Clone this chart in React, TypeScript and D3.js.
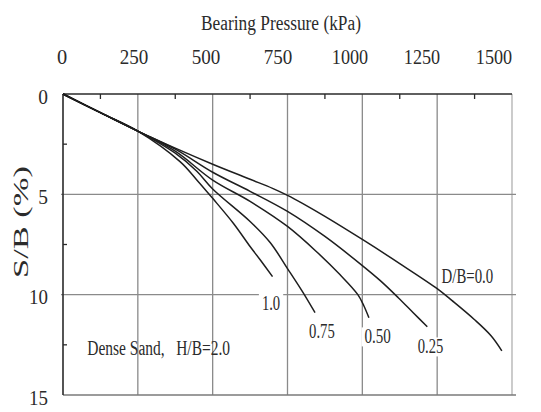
import React from "react";
import * as d3 from "d3";

// Load–settlement curves for a strip footing on dense sand (H/B = 2.0)
type Pt = [number, number]; // [bearing pressure kPa, S/B %]

const curveDB000: Pt[] = [
  [0, 0], [125, 0.93], [250, 1.85], [375, 2.7], [500, 3.5], [625, 4.25],
  [700, 4.7], [750, 5.05], [800, 5.45], [875, 6.1], [1000, 7.25],
  [1125, 8.45], [1250, 9.7], [1300, 10.3], [1375, 11.25], [1430, 12.05], [1466, 12.8],
];
const curveDB025: Pt[] = [
  [0, 0], [125, 0.93], [250, 1.85], [375, 2.75], [500, 3.9], [625, 4.85],
  [750, 5.85], [875, 7.1], [1000, 8.55], [1060, 9.3], [1120, 10.15],
  [1170, 10.9], [1217, 11.6],
];
const curveDB050: Pt[] = [
  [0, 0], [125, 0.93], [250, 1.85], [375, 2.85], [500, 4.29], [625, 5.35],
  [750, 6.6], [850, 7.9], [925, 9.0], [985, 10.0], [1005, 10.55], [1022, 11.15],
];
const curveDB075: Pt[] = [
  [0, 0], [125, 0.93], [250, 1.85], [375, 2.95], [447, 3.85], [500, 4.73],
  [625, 6.35], [692, 7.4], [750, 8.7], [800, 9.85], [842, 10.9],
];
const curveDB100: Pt[] = [
  [0, 0], [125, 0.93], [250, 1.85], [391, 3.37], [447, 4.28], [500, 5.2],
  [569, 6.44], [625, 7.6], [658, 8.25], [700, 9.1],
];

const allCurves = [curveDB000, curveDB025, curveDB050, curveDB075, curveDB100];

// Curve labels: text, anchor in data units, width of the set text, knockout background
const curveLabelText = ["D/B=0.0", "0.25", "0.50", "0.75", "1.0"];
const curveLabelAt: Pt[] = [[1351, 9.14], [1228, 12.63], [1051, 12.13], [865, 11.86], [695, 10.46]];
const curveLabelWidth = [51.6, 25.6, 26.4, 25.7, 18.3];
const curveLabelKnockout = [false, true, true, false, true];

const xMajorTicks = [0, 250, 500, 750, 1000, 1250, 1500];
const xMinorTicks = [125, 375, 625, 875, 1125, 1375];
const yMajorTicks = [0, 5, 10, 15];
const yMinorTicks = [2.5, 7.5, 12.5];

const xTitle = "Bearing Pressure (kPa)";
const yTitle = "S/B (%)";
const noteText = "Dense Sand,   H/B=2.0";

const W = 541;
const H = 412;
const FONT = "Liberation Serif, Times New Roman, Times, serif";

export default function App() {
  const x = d3.scaleLinear().domain([0, 1500]).range([63, 512]);
  const y = d3.scaleLinear().domain([0, 15]).range([94, 395]);
  // tick labels on the top axis are set slightly compressed toward the left
  const xLabel = d3.scaleLinear().domain([0, 1500]).range([62, 494]);

  const line = d3
    .line<Pt>()
    .x((d) => x(d[0]))
    .y((d) => y(d[1]))
    .curve(d3.curveCatmullRom.alpha(0.5));

  const [x0, x1] = x.range();
  const [y0, y1] = y.range();
  const gridColor = "#8a8a8a";
  const axisColor = "#2a2a2a";
  const textColor = "#2b2b2b";
  const digitW = 9.2;

  return (
    <svg
      width={W}
      height={H}
      style={{ position: "absolute", left: 0, top: 0, background: "#fff" }}
    >
      <rect x={0} y={0} width={W} height={H} fill="#fff" />

      {/* grid */}
      {xMajorTicks.slice(1).map((v) => (
        <line key={"gx" + v} x1={x(v)} x2={x(v)} y1={y0} y2={y1}
          stroke={v === 1500 ? "#b0b0b0" : gridColor} strokeWidth={1.3} />
      ))}
      {yMajorTicks.slice(1, 3).map((v) => (
        <line key={"gy" + v} x1={x0 - 2} x2={x1 + 4} y1={y(v)} y2={y(v)}
          stroke={gridColor} strokeWidth={1.4} />
      ))}
      <line x1={x0} x2={x1 + 4} y1={y1} y2={y1} stroke="#7a7a7a" strokeWidth={1.4} />

      {/* axes */}
      <line x1={x0} x2={x1} y1={y0} y2={y0} stroke={axisColor} strokeWidth={1.6} />
      <line x1={x0} x2={x0} y1={y0} y2={y1} stroke={axisColor} strokeWidth={1.6} />
      {xMinorTicks.map((v) => (
        <line key={"tx" + v} x1={x(v)} x2={x(v)} y1={y0} y2={y0 + 5}
          stroke={axisColor} strokeWidth={1.3} />
      ))}
      {yMinorTicks.map((v) => (
        <line key={"ty" + v} x1={x0} x2={x0 + 4} y1={y(v)} y2={y(v)}
          stroke={axisColor} strokeWidth={1.3} />
      ))}

      {/* curves */}
      {allCurves.map((c, i) => (
        <path key={"c" + i} d={line(c) ?? ""} fill="none" stroke="#1e1e1e"
          strokeWidth={1.5} strokeLinejoin="round" />
      ))}

      {/* curve labels */}
      {curveLabelText.map((t, i) => {
        const cx = x(curveLabelAt[i][0]);
        const cy = y(curveLabelAt[i][1]);
        const w = curveLabelWidth[i];
        return (
          <g key={"l" + i}>
            {curveLabelKnockout[i] && (
              <rect x={cx - w / 2 - 3} y={cy - 10} width={w + 6} height={19} fill="#fff" />
            )}
            <text x={cx - w / 2} y={cy + 6} fontFamily={FONT} fontSize={20}
              fill={textColor} textLength={w} lengthAdjust="spacingAndGlyphs">
              {t}
            </text>
          </g>
        );
      })}

      <text x={87.3} y={y(12.65) + 7} fontFamily={FONT} fontSize={20} fill={textColor}
        textLength={142.7} lengthAdjust="spacingAndGlyphs" style={{ whiteSpace: "pre" }}>
        {noteText}
      </text>

      {/* top axis labels */}
      {xMajorTicks.map((v) => {
        const s = String(v);
        const w = s.length * digitW + (s.length === 4 ? -0.5 : 1);
        return (
          <text key={"xl" + v} x={xLabel(v) - w / 2} y={63.5} fontFamily={FONT}
            fontSize={22} fill={textColor} textLength={w} lengthAdjust="spacingAndGlyphs">
            {s}
          </text>
        );
      })}
      <text x={201} y={29.5} fontFamily={FONT} fontSize={20} fill={textColor}
        textLength={160} lengthAdjust="spacingAndGlyphs">
        {xTitle}
      </text>

      {/* left axis labels */}
      {yMajorTicks.map((v) => {
        const s = String(v);
        const w = s.length * digitW + 0.5;
        return (
          <text key={"yl" + v} x={48 - w} y={y(v) + 9.5} fontFamily={FONT}
            fontSize={22} fill={textColor} textLength={w} lengthAdjust="spacingAndGlyphs">
            {s}
          </text>
        );
      })}
      <g transform={`translate(28, ${222 + 56}) scale(0.7, 1) rotate(-90)`}>
        <text x={0} y={0} fontFamily={FONT} fontSize={30} fill={textColor}
          textLength={112} lengthAdjust="spacingAndGlyphs">
          {yTitle}
        </text>
      </g>
    </svg>
  );
}
